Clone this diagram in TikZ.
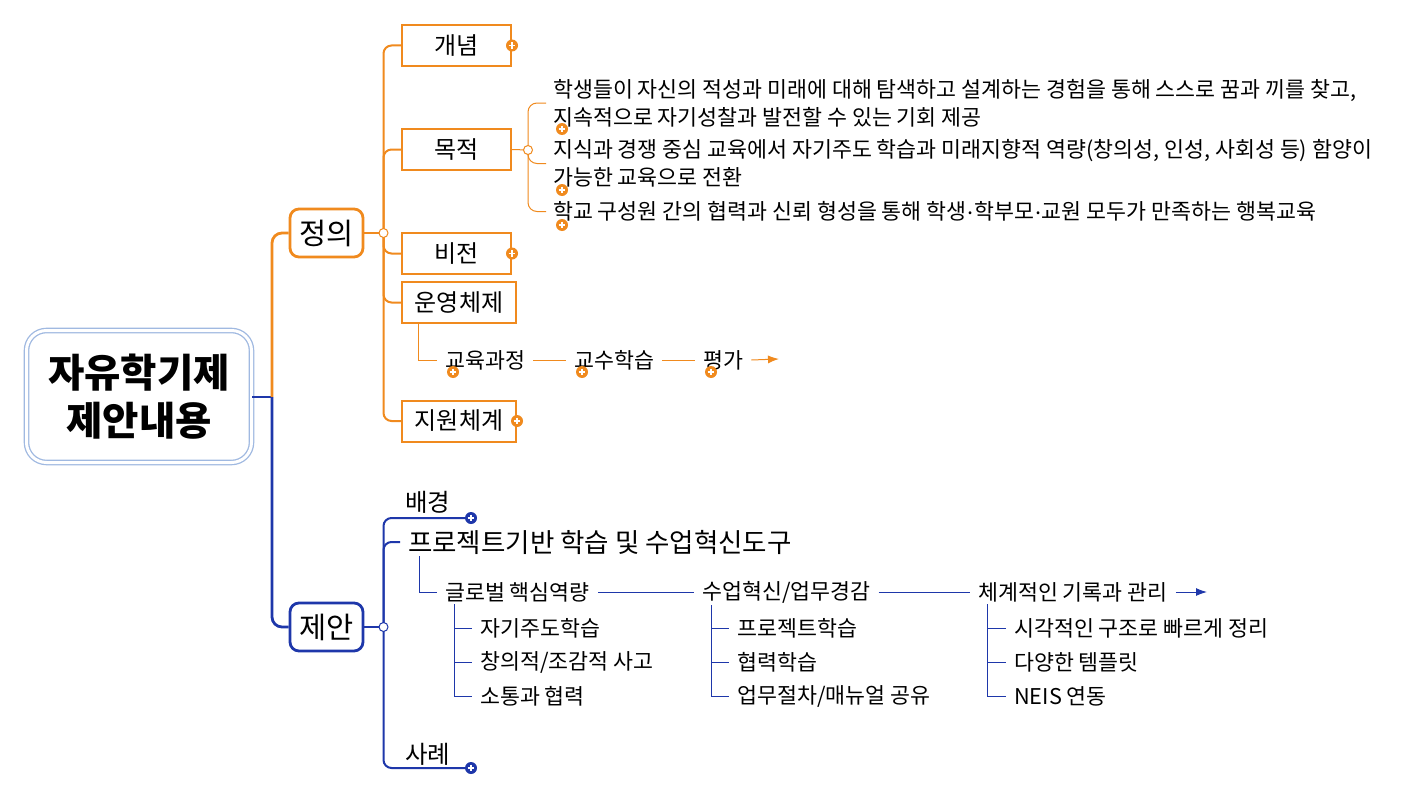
\documentclass[tikz,border=0pt]{standalone}
\usepackage{fontspec}
\setmainfont{Noto Sans CJK KR}
\usetikzlibrary{arrows.meta}
\definecolor{orC}{RGB}{240,138,30}
\definecolor{blC}{RGB}{30,55,170}
\definecolor{rtC}{RGB}{160,185,225}
\newcommand\mdot{\kern0.04em\raisebox{0.42ex}{.}\kern0.04em}
\tikzset{
  rootbox/.style={draw=rtC, double=white, double distance=3pt, line width=1.3pt,
    rounded corners=20pt, minimum width=225pt, minimum height=132pt, align=center,
    font=\fontsize{39.5}{48}\selectfont\bfseries},
  mainbox/.style={line width=2.8pt, rounded corners=9pt, fill=white,
    minimum width=73pt, minimum height=48pt, inner sep=0pt, font=\fontsize{29.5}{30}\selectfont},
  subbox/.style={draw=orC, line width=2pt, fill=white, minimum height=41pt,
    inner sep=0pt, font=\fontsize{24}{26}\selectfont},
  txt/.style={inner xsep=8pt, inner ysep=2pt, font=\fontsize{21.7}{28}\selectfont, align=left},
  bigtxt/.style={inner xsep=8pt, inner ysep=2pt, font=\fontsize{26.5}{30}\selectfont},
  midtxt/.style={inner xsep=8pt, inner ysep=2pt, font=\fontsize{24.5}{26}\selectfont},
  thickO/.style={draw=orC, line width=2.8pt, rounded corners=10pt},
  thickB/.style={draw=blC, line width=2.8pt, rounded corners=10pt},
  medO/.style={draw=orC, line width=2pt, rounded corners=8pt},
  medB/.style={draw=blC, line width=2pt, rounded corners=8pt},
  thinO/.style={draw=orC, line width=1pt, rounded corners=8pt},
  thinB/.style={draw=blC, line width=1pt},
  pics/plusic/.style={code={\fill[#1] (0,0) circle (6);
      \draw[white, line width=1.6pt] (-3.4,0) -- (3.4,0) (0,-3.4) -- (0,3.4);}},
  jdot/.style={circle, draw=#1, fill=white, line width=1pt, minimum size=9pt, inner sep=0pt}
}
\begin{document}
\begin{tikzpicture}[x=1pt, y=-1pt]
\useasboundingbox (0,0) rectangle (1422,792);
\fill[white] (0,0) rectangle (1422,792);

% ---------- nodes ----------
\node[rootbox] (root) at (139,396.5) {자유학기제\\제안내용};
\node[mainbox, draw=orC] (jeong) at (326.5,233) {정의};
\node[mainbox, draw=blC] (jean) at (326.5,627) {제안};

\node[subbox, minimum width=109pt, anchor=west] (gn) at (401,45.5) {개념};
\node[subbox, minimum width=109pt, anchor=west] (mj) at (401,149.5) {목적};
\node[subbox, minimum width=109pt, anchor=west] (bj) at (401,253.5) {비전};
\node[subbox, minimum width=114pt, anchor=west] (uy) at (401,302.5) {운영체제};
\node[subbox, minimum width=114pt, anchor=west] (jw) at (401,421) {지원체계};

\node[txt, anchor=west, inner xsep=7pt] (m1) at (546,103) {학생들이 자신의 적성과 미래에 대해 탐색하고 설계하는 경험을 통해 스스로 꿈과 끼를 찾고,\\지속적으로 자기성찰과 발전할 수 있는 기회 제공};
\node[txt, anchor=west, inner xsep=7pt] (m2) at (546,163.5) {지식과 경쟁 중심 교육에서 자기주도 학습과 미래지향적 역량(창의성, 인성, 사회성 등) 함양이\\가능한 교육으로 전환};
\node[txt, anchor=west, inner xsep=7pt] (m3) at (546,211.5) {학교 구성원 간의 협력과 신뢰 형성을 통해 학생\mdot 학부모\mdot 교원 모두가 만족하는 행복교육};

\node[txt, anchor=west] (edu) at (437,360) {교육과정};
\node[txt, anchor=west] (gs) at (566,360) {교수학습};
\node[txt, anchor=west] (pg) at (695,360) {평가};
\coordinate (pgend) at (779,359);

\node[midtxt, anchor=west, inner xsep=7pt] (bg) at (398,502) {배경};
\coordinate (bgend) at (471,518);
\node[bigtxt, anchor=west] (pj) at (400,542) {프로젝트기반 학습 및 수업혁신도구};
\node[midtxt, anchor=west, inner xsep=7pt] (sl) at (398,754) {사례};
\coordinate (slend) at (471,768);

\node[txt, anchor=west] (gl) at (437,592) {글로벌 핵심역량};
\node[txt, anchor=west] (sy) at (694,592) {수업혁신/업무경감};
\node[txt, anchor=west] (ch) at (970,592) {체계적인 기록과 관리};
\coordinate (chend) at (1207,592);

\node[txt, anchor=west] (g1) at (472,628) {자기주도학습};
\node[txt, anchor=west] (g2) at (472,662) {창의적/조감적 사고};
\node[txt, anchor=west] (g3) at (472,696) {소통과 협력};
\node[txt, anchor=west] (s1) at (729,628) {프로젝트학습};
\node[txt, anchor=west] (s2) at (729,662) {협력학습};
\node[txt, anchor=west] (s3) at (729,696) {업무절차/매뉴얼 공유};
\node[txt, anchor=west] (c1) at (1006,628) {시각적인 구조로 빠르게 정리};
\node[txt, anchor=west] (c2) at (1006,662) {다양한 템플릿};
\node[txt, anchor=west] (c3) at (1006,696) {NEIS 연동};

% ---------- connectors ----------
\coordinate (rj) at (272,397);
\draw[thickB] (root.east |- rj) -- (rj);
\draw[thickO] (rj) |- (jeong.west);
\draw[thickB] (rj) |- (jean.west);

\coordinate (jo) at (383.5,233);
\draw[medO, rounded corners=0pt] (jeong.east) -- (jo);
\foreach \t in {gn,mj,bj,uy,jw} \draw[medO] (jo) |- (\t.west);
\node[jdot=orC] (jod) at (jo) {};

\coordinate (mo) at (528,150);
\draw[thinO, rounded corners=0pt] (mj.east) -- (mo);
\foreach \t in {m1,m2,m3} \draw[thinO, rounded corners=9pt] (mo) |- (\t.west);
\node[jdot=orC] (mod) at (mo) {};

\draw[thinO, rounded corners=0pt] ([xshift=17pt]uy.south west) |- (edu.west);
\draw[thinO] (edu.east) -- (gs.west);
\draw[thinO] (gs.east) -- (pg.west);
\draw[thinO, -{Latex[length=11pt,width=8pt]}] (pg.east) -- (pgend);

\coordinate (jb) at (383.5,627);
\draw[medB, rounded corners=0pt] (jean.east) -- (jb);
\draw[medB] (jb) |- (bgend);
\draw[medB] (jb) |- (pj.west);
\draw[medB] (jb) |- (slend);
\node[jdot=blC] (jbd) at (jb) {};

\draw[thinB] ([xshift=19pt]pj.south west) |- (gl.west);
\draw[thinB] (gl.east) -- (sy.west);
\draw[thinB] (sy.east) -- (ch.west);
\draw[thinB, -{Latex[length=11pt,width=8pt]}] (ch.east) -- (chend);
\foreach \t in {g1,g2,g3} \draw[thinB] ([xshift=17pt]gl.south west) |- (\t.west);
\foreach \t in {s1,s2,s3} \draw[thinB] ([xshift=17pt]sy.south west) |- (\t.west);
\foreach \t in {c1,c2,c3} \draw[thinB] ([xshift=17pt]ch.south west) |- (\t.west);

% ---------- plus icons ----------
\pic at (gn.east) {plusic=orC};
\pic at (bj.east) {plusic=orC};
\pic at (jw.east) {plusic=orC};
\pic at (562,129) {plusic=orC};
\pic at (562,190) {plusic=orC};
\pic at (562,225) {plusic=orC};
\pic at (453,372) {plusic=orC};
\pic at (582,372) {plusic=orC};
\pic at (711,372) {plusic=orC};
\pic at (bgend) {plusic=blC};
\pic at (slend) {plusic=blC};
\end{tikzpicture}
\end{document}
